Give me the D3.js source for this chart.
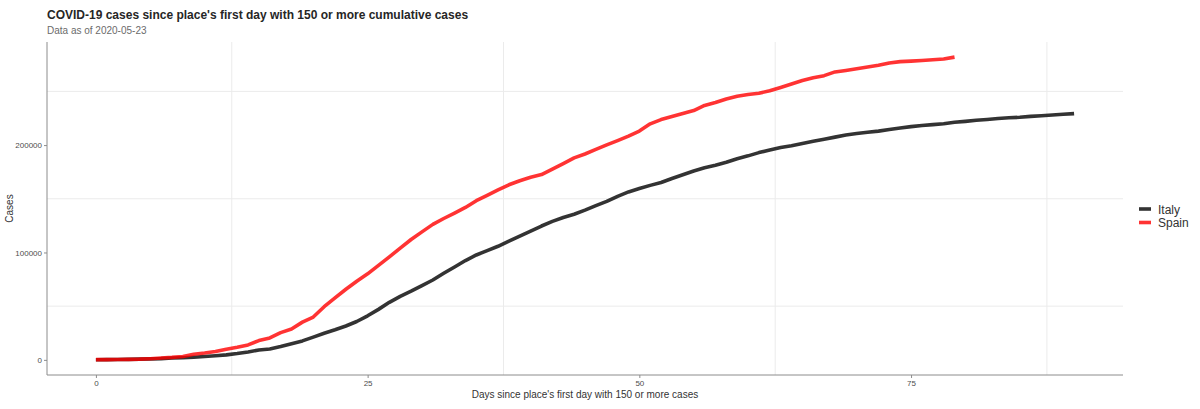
<!DOCTYPE html>
<html><head><meta charset="utf-8">
<script src="https://cdn.jsdelivr.net/npm/d3@7/dist/d3.min.js"></script>
<style>body{margin:0;background:#fff;font-family:"Liberation Sans",Arial,sans-serif;}</style>
</head><body><svg id="c" width="1200" height="409"></svg>
<script>
const italyCases = [155,229,322,453,655,888,1128,1694,2036,2502,3089,3858,4636,5883,7375,9172,10149,12462,15113,17660,21157,24747,27980,31506,35713,41035,47021,53578,59138,63927,69176,74386,80589,86498,92472,97689,101739,105792,110574,115242,119827,124632,128948,132547,135586,139422,143626,147577,152271,156363,159516,162488,165155,168941,172434,175925,178972,181228,183957,187327,189973,192994,195351,197675,199414,201505,203591,205463,207428,209328,210717,211938,213013,214457,215858,217185,218268,219070,219814,221216,222104,223096,223885,224760,225435,225886,226699,227364,228006,228658,229327];
const spainCases = [222,259,400,500,673,1073,1695,2277,3146,5232,6391,7798,9942,11748,13910,17963,20410,25374,28768,35136,39885,49515,57786,65719,73235,80110,87956,95923,104118,112065,119199,126168,131646,136675,141942,148220,153222,158273,163027,166831,170099,172541,177644,182816,188068,191726,195944,200210,204178,208389,213024,219764,223759,226629,229422,232128,236899,239639,242988,245567,247122,248301,250561,253682,256855,260117,262783,264663,268143,269520,271095,272646,274367,276505,277719,278188,278803,279524,280117,281904];
const seriesNames = ["Italy","Spain"];
const seriesColors = ["rgba(0,0,0,0.8)","rgba(255,0,0,0.8)"];
const xTicks = [0,25,50,75];
const yTicks = [0,100000,200000];
const xMinor = [12.5,37.5,62.5,87.5];
const yMinor = [50000,150000,250000];

const svg = d3.select("#c");
const L=47, R=1123, T=42, B=375;
const allSeries = [italyCases, spainCases];
const xMax = d3.max(allSeries, s => s.length-1);
const yMax = d3.max(allSeries, s => d3.max(s));
const xPad = xMax*0.05, yPad = yMax*0.05;
const x = d3.scaleLinear().domain([-xPad, xMax+xPad]).range([L,R]);
const y = d3.scaleLinear().domain([-yPad, yMax+yPad]).range([B,T]);

// minor grid
svg.append("g").selectAll("line").data(yMinor).join("line")
  .attr("x1",L).attr("x2",R).attr("y1",d=>y(d)).attr("y2",d=>y(d))
  .attr("stroke","#ebebeb").attr("stroke-width",1);
svg.append("g").selectAll("line").data(xMinor).join("line")
  .attr("y1",T).attr("y2",B).attr("x1",d=>x(d)).attr("x2",d=>x(d))
  .attr("stroke","#ebebeb").attr("stroke-width",1);

// axes
const xAxis = svg.append("g").attr("transform",`translate(0,${B})`)
  .call(d3.axisBottom(x).tickValues(xTicks).tickSize(3).tickPadding(2).tickFormat(d3.format("d")));
const yAxis = svg.append("g").attr("transform",`translate(${L},0)`)
  .call(d3.axisLeft(y).tickValues(yTicks).tickSize(3).tickPadding(2).tickFormat(d3.format("d")));
[xAxis,yAxis].forEach(a=>{
  a.select(".domain").attr("stroke","#8c8c8c").attr("stroke-width",1);
  a.selectAll(".tick line").attr("stroke","#8c8c8c");
  a.selectAll(".tick text").attr("fill","#4d4d4d").style("font-size","8px").style("font-family","Liberation Sans, Arial, sans-serif");
});
xAxis.select(".domain").attr("d",`M${L},0H${R}`);
yAxis.select(".domain").attr("d",`M0,${T}V${B}`);

// lines
const line = d3.line().x((d,i)=>x(i)).y(d=>y(d)).curve(d3.curveLinear);
svg.append("g").selectAll("path").data(allSeries).join("path")
  .attr("d",d=>line(d)).attr("fill","none")
  .attr("stroke",(d,i)=>seriesColors[i]).attr("stroke-width",3.6)
  .attr("stroke-linejoin","round").attr("stroke-linecap","butt");

// titles
svg.append("text").attr("x",47).attr("y",19).text("COVID-19 cases since place's first day with 150 or more cumulative cases")
  .attr("fill","#262626").style("font-size","12px").style("font-weight","bold");
svg.append("text").attr("x",47).attr("y",34).text("Data as of 2020-05-23")
  .attr("fill","#6b6b6b").style("font-size","10px");
svg.append("text").attr("x",(L+R)/2).attr("y",398).attr("text-anchor","middle")
  .text("Days since place's first day with 150 or more cases").attr("fill","#333").style("font-size","10px");
svg.append("text").attr("transform",`translate(13,${(T+B)/2}) rotate(-90)`).attr("text-anchor","middle")
  .text("Cases").attr("fill","#333").style("font-size","10px");

// legend
const lg = svg.append("g").attr("transform","translate(1139,209)");
seriesNames.forEach((n,i)=>{
  const g = lg.append("g").attr("transform",`translate(0,${i*13.5})`);
  g.append("line").attr("x1",0).attr("x2",12).attr("y1",0).attr("y2",0)
    .attr("stroke",seriesColors[i]).attr("stroke-width",3.6);
  g.append("text").attr("x",19).attr("y",4.5).text(n).attr("fill","#333").style("font-size","12px");
});
</script></body></html>
